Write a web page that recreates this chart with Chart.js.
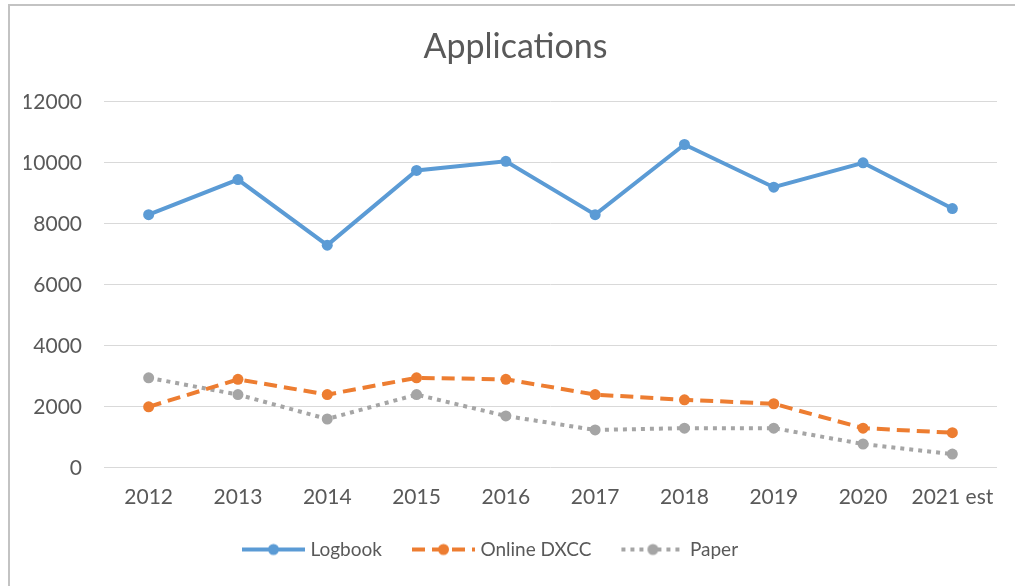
<!DOCTYPE html>
<html>
<head>
<meta charset="utf-8">
<title>Applications</title>
<script src="https://cdn.jsdelivr.net/npm/chart.js@4/dist/chart.umd.min.js"></script>
<style>
  body { margin: 0; background: #fff; }
  #wrap { position: relative; width: 1015px; height: 586px; }
  #frame {
    position: absolute; left: 8px; top: 4px; right: 0; bottom: 0;
    border-left: 2px solid #c3c3c3; border-top: 2px solid #c3c3c3;
    pointer-events: none;
  }
</style>
</head>
<body>
<div id="wrap">
  <canvas id="chart" width="1015" height="586"></canvas>
  <div id="frame"></div>
</div>
<script>
var years = ['2012', '2013', '2014', '2015', '2016', '2017', '2018', '2019', '2020', '2021 est'];
var logbook = [8300, 9450, 7300, 9750, 10050, 8300, 10600, 9200, 10000, 8500];
var onlineDxcc = [2000, 2900, 2400, 2950, 2900, 2400, 2230, 2100, 1300, 1150];
var paper = [2950, 2400, 1600, 2400, 1700, 1240, 1300, 1300, 780, 450];
var yTicks = [0, 2000, 4000, 6000, 8000, 10000, 12000];

var blue = '#5b9bd5';
var orange = '#ed7d31';
var grey = '#a5a5a5';
var textColor = '#595959';
var fontName = 'Lato, "Open Sans", sans-serif';

// legend picture: a line with a dot in the middle, line starts 21px in
function legendSymbol(color, dash) {
	var c = document.createElement('canvas');
	c.width = 84;
	c.height = 14;
	var ctx = c.getContext('2d');
	ctx.strokeStyle = color;
	ctx.lineWidth = 4;
	ctx.setLineDash(dash);
	ctx.beginPath();
	ctx.moveTo(21, 7);
	ctx.lineTo(84, 7);
	ctx.stroke();
	ctx.fillStyle = color;
	ctx.beginPath();
	ctx.arc(52.5, 7, 5.5, 0, Math.PI * 2);
	ctx.fill();
	return c;
}

var seriesStyles = [
	{ label: 'Logbook', data: logbook, color: blue, dash: [] },
	{ label: 'Online DXCC', data: onlineDxcc, color: orange, dash: [13, 7] },
	{ label: 'Paper', data: paper, color: grey, dash: [4, 5] }
];

var datasets = seriesStyles.map(s => ({
	label: s.label,
	data: s.data,
	borderColor: s.color,
	backgroundColor: s.color,
	borderWidth: 4,
	borderDash: s.dash,
	borderCapStyle: 'butt',
	pointRadius: 5.5,
	pointBorderWidth: 0,
	pointBackgroundColor: s.color,
	tension: 0,
	fill: false,
	symbol: legendSymbol(s.color, s.dash)
}));

// in the original the legend sits a bit left of centre, the title a bit right
var nudgeBoxes = {
	id: 'nudgeBoxes',
	afterLayout: chart => {
		chart.legend.left -= 29;
		chart.legend.right -= 29;
		chart.titleBlock.left += 5;
		chart.titleBlock.right += 5;
	}
};

new Chart(document.getElementById('chart').getContext('2d'), {
	type: 'line',
	data: { labels: years, datasets: datasets },
	plugins: [nudgeBoxes],
	options: {
		responsive: false,
		animation: false,
		layout: { padding: { left: 24, right: 18, top: 10, bottom: 17 } },
		plugins: {
			title: {
				display: true,
				text: 'Applications',
				color: textColor,
				font: { family: fontName, size: 34, weight: 'normal' },
				padding: { top: 17, bottom: 34 }
			},
			legend: {
				position: 'bottom',
				labels: {
					color: textColor,
					font: { family: fontName, size: 19 },
					usePointStyle: true,
					pointStyleWidth: 76,
					padding: 13,
					generateLabels: chart => chart.data.datasets.map((ds, i) => ({
						text: ds.label,
						pointStyle: ds.symbol,
						fontColor: textColor,
						datasetIndex: i,
						lineWidth: 0,
						strokeStyle: 'transparent',
						fillStyle: ds.borderColor
					}))
				}
			},
			tooltip: { enabled: false }
		},
		scales: {
			x: {
				offset: true,
				grid: { display: false, drawTicks: false },
				border: { display: false },
				ticks: { color: textColor, font: { family: fontName, size: 21 }, padding: 17, maxRotation: 0 }
			},
			y: {
				min: 0,
				max: 12000,
				afterBuildTicks: axis => { axis.ticks = yTicks.map(v => ({ value: v })); },
				afterFit: axis => { axis.width = 80; },
				grid: { color: '#d9d9d9', lineWidth: 1, drawTicks: false },
				border: { display: false },
				ticks: { color: textColor, font: { family: fontName, size: 21 }, padding: 22, callback: v => String(v) }
			}
		}
	}
});
</script>
</body>
</html>
